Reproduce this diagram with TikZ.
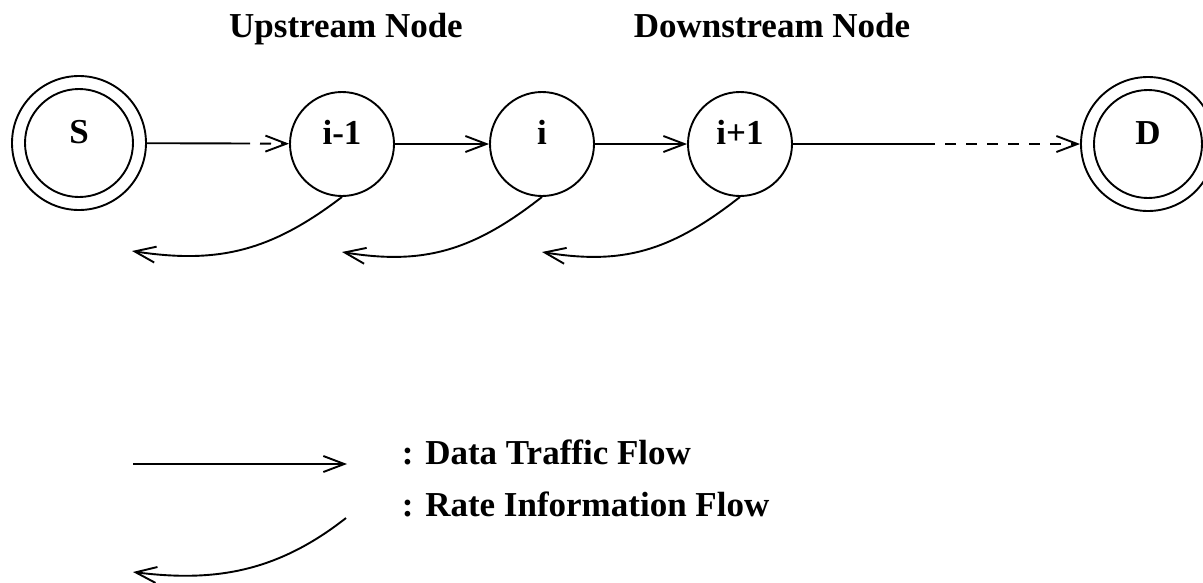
\documentclass[tikz,border=0pt]{standalone}
\usepackage{fontspec}
\setmainfont{Liberation Serif}
\usetikzlibrary{arrows.meta}
\tikzset{
  every picture/.style={line width=1.9pt},
  lbl/.style={font=\fontsize{35}{42}\selectfont\bfseries},
  stn/.style={circle, draw, inner sep=0pt, minimum size=104pt, lbl,
              text height=10pt, text depth=10pt},
  endn/.style={stn, minimum size=134pt},
  tip/.style={-{Straight Barb[length=21pt,width=16pt]}},
  dsh/.style={dash pattern=on 11pt off 10pt, dash phase=11pt},
  hdr/.style={lbl, anchor=base, inner sep=0pt},
  leg/.style={lbl, anchor=base west, inner sep=0pt},
}
\begin{document}
\begin{tikzpicture}[x=1pt,y=-1pt]
\useasboundingbox (0,0) rectangle (1203,582);
% nodes
\node[endn] (S) at (79,143) {S};
\draw (S.center) circle (54pt);
\node[stn] (im1) at (342,144) {i-1};
\node[stn] (i) at (542,144) {i};
\node[stn] (ip1) at (740,144) {i+1};
\node[endn] (D) at (1148,144) {D};
\draw (D.center) circle (54pt);
% headers
\node[hdr] (up) at (346,37) {Upstream Node};
\node[hdr] (down) at (772,37) {Downstream Node};
% data flow
\coordinate (c1) at (250,143.5);
\draw (S) -- (c1);
\draw[tip,dsh] (c1) -- (im1);
\draw[tip] (im1) -- (i);
\draw[tip] (i) -- (ip1);
\coordinate (c2) at (935,144);
\draw (ip1) -- (c2);
\draw[tip,dsh] (c2) -- (D);
% rate information flow
\coordinate (t1) at (132,251);
\coordinate (t2) at (342,252);
\coordinate (t3) at (542,252);
\draw[tip] (im1.south) .. controls +(-72,55) and +(85,13) .. (t1);
\draw[tip] (i.south) .. controls +(-70,55) and +(80,13) .. (t2);
\draw[tip] (ip1.south) .. controls +(-70,55) and +(80,13) .. (t3);
% legend
\coordinate (l1a) at (133,464);
\coordinate (l1b) at (347,464);
\draw[tip] (l1a) -- (l1b);
\coordinate (l2a) at (346,518);
\coordinate (l2b) at (133,572);
\draw[tip] (l2a) .. controls +(-70,55) and +(80,10) .. (l2b);
\node[leg] (lg1) at (401,464) {: Data Traffic Flow};
\node[leg] (lg2) at (401,516) {: Rate Information Flow};
\end{tikzpicture}
\end{document}
